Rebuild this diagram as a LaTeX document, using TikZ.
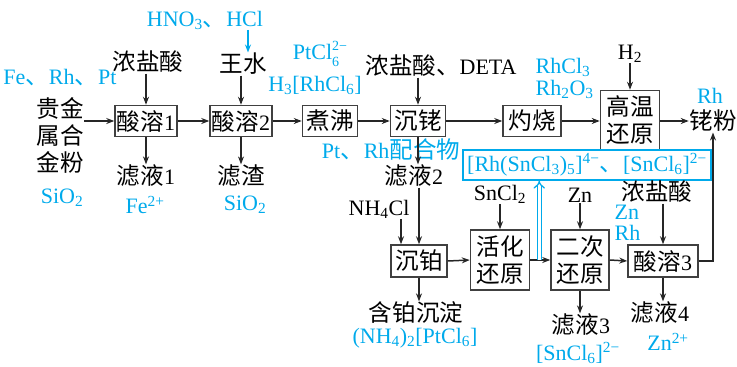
\documentclass[tikz,border=0pt]{standalone}
\usepackage{fontspec}
\setmainfont{Liberation Serif}
\newfontfamily\cjk[Scale=1.07]{Noto Sans CJK SC}
\usetikzlibrary{arrows.meta}
\definecolor{cb}{RGB}{0,170,235}
\newcommand{\tsub}[1]{\textsubscript{#1}}
\newcommand{\tsup}[1]{\textsuperscript{#1}}
\newcommand{\stk}[2]{\raisebox{-7pt}{\fontsize{14}{16}\selectfont\begin{tabular}[b]{@{}l@{}}#1\\#2\end{tabular}}}
\begin{document}
\begin{tikzpicture}[x=1pt,y=-1pt,
 every node/.style={font=\fontsize{22}{27}\selectfont, inner sep=0.5pt, align=center},
 box/.style={draw=black!75, line width=1.5pt, inner sep=1pt, minimum height=31pt},
 tbox/.style={box, minimum height=59pt},
 lbl/.style={text=cb},
 arr/.style={line width=1.5pt, black!85, -{Stealth[length=8pt,width=6pt]}},
 barr/.style={arr, cb}
]
\useasboundingbox (0,0) rectangle (737,367);
% top row
\node (fe) [lbl] at (60,78) {Fe{\cjk 、}Rh{\cjk 、}Pt};
\node (feed) [font=\fontsize{22}{27}\selectfont] at (60,135) {\cjk 贵金\\\cjk 属合\\\cjk 金粉};
\node (sio2a) [lbl] at (62,198) {SiO\tsub{2}};
\node (s1) [box, minimum width=62pt] at (146,121) {{\cjk 酸溶}1};
\node (acid1) at (148,62) {\cjk 浓盐酸};
\node (filt1) at (146,176) {{\cjk 滤液}1};
\node (fe2) [lbl] at (145,205) {Fe\tsup{2+}};
\node (s2) [box, minimum width=62pt] at (241,121) {{\cjk 酸溶}2};
\node (wang) at (243,64) {\cjk 王水};
\node (hno3) [lbl] at (205,20) {HNO\tsub{3}{\cjk 、}HCl};
\node (slag) at (241,176) {\cjk 滤渣};
\node (sio2b) [lbl] at (245,205) {SiO\tsub{2}};
\node (ptcl) [lbl] at (320,55) {PtCl\stk{2−}{6}};
\node (h3) [lbl] at (315,85) {H\tsub{3}[RhCl\tsub{6}]};
\node (boil) [box, minimum width=55pt] at (330,121) {\cjk 煮沸};
\node (rh) [box, minimum width=55pt] at (418,121) {\cjk 沉铑};
\node (hcl2) at (441,66) {{\cjk 浓盐酸、}DETA};
\node (ptrh) [lbl] at (391,150) {Pt{\cjk 、}Rh{\cjk 配合物}};
\node (filt2) at (414,176) {{\cjk 滤液}2};
\node (burn) [box, minimum width=58pt] at (532,121) {\cjk 灼烧};
\node (rhcl3) [lbl, align=left, anchor=west, font=\fontsize{22}{22}\selectfont] at (535,78) {RhCl\tsub{3}\\Rh\tsub{2}O\tsub{3}};
\node (high) [tbox, minimum width=59pt] at (630,120) {\cjk 高温\\\cjk 还原};
\node (h2) at (630,54) {H\tsub{2}};
\node (rhpow) at (713,121) {\cjk 铑粉};
\node (rhlab) [lbl] at (710,96) {Rh};
\node (bbox) [draw=cb, line width=1.5pt, text=cb, minimum width=248pt, minimum height=30pt, inner sep=0pt] at (587,165)
 {[Rh(SnCl\tsub{3})\tsub{5}]\tsup{4−}{\cjk 、}[SnCl\tsub{6}]\tsup{2−}};
% bottom row
\node (ch) [box, minimum width=56pt, minimum height=32pt] at (419,261) {\cjk 沉铂};
\node (nh4) at (379,209) {NH\tsub{4}Cl};
\node (ptppt) at (416,313) {\cjk 含铂沉淀};
\node (nhpt) [lbl] at (415,338) {(NH\tsub{4})\tsub{2}[PtCl\tsub{6}]};
\node (act) [tbox, minimum width=59pt, minimum height=60pt] at (500,260) {\cjk 活化\\\cjk 还原};
\node (sncl2) at (500,194) {SnCl\tsub{2}};
\node (sec) [tbox, minimum width=58pt, minimum height=60pt] at (580,260) {\cjk 二次\\\cjk 还原};
\node (zn) at (580,195) {Zn};
\node (filt3) at (581,325) {{\cjk 滤液}3};
\node (sncl6) [lbl] at (578,353) {[SnCl\tsub{6}]\tsup{2−}};
\node (s3) [box, minimum width=70pt, minimum height=32pt] at (663,261) {{\cjk 酸溶}3};
\node (hcl3) at (657,192) {\cjk 浓盐酸};
\node (znrh) [lbl, align=left, anchor=west, font=\fontsize{22}{21}\selectfont] at (614,223) {Zn\\Rh};
\node (filt4) at (660,313) {{\cjk 滤液}4};
\node (zn2) [lbl] at (668,342) {Zn\tsup{2+}};
% connectors top
\draw[arr] (feed.east |- s1) -- (s1.west);
\draw[arr] (acid1.south -| s1.north) -- (s1.north);
\draw[arr] (s1.south) -- (filt1.north);
\draw[arr] (s1.east) -- (s2.west);
\draw[arr] (wang.south -| s2.north) -- (s2.north);
\draw[barr] ([xshift=5pt]wang.north |- hno3.south) -- ([xshift=5pt]wang.north);
\draw[arr] (s2.south) -- (slag.north);
\draw[arr] (s2.east) -- (boil.west);
\draw[arr] (boil.east) -- (rh.west);
\draw[arr] (hcl2.south -| rh.north) -- (rh.north);
\draw[arr] (rh.south) -- (rh.south |- filt2.north);
\draw[arr] (rh.east) -- (burn.west);
\draw[arr] (burn.east) -- (burn.east -| high.west);
\draw[arr] (h2.south) -- (high.north);
\draw[arr] (high.east |- rhpow.west) -- (rhpow.west);
% connectors bottom
\draw[arr] (filt2.south -| ch.north) -- (ch.north);
\draw[arr] (nh4.south -| 401,0) -- (ch.north -| 401,0);
\draw[arr] (ch.south) -- (ptppt.north -| ch.south);
\draw[arr] (ch.east) -- (act.west);
\draw[arr] (sncl2.south) -- (act.north);
\draw[arr] (act.east) -- coordinate[pos=0.45] (dj) (sec.west);
\draw[arr] (zn.south) -- (sec.north);
\draw[arr] (sec.south) -- (filt3.north -| sec.south);
\draw[arr] (sec.east) -- (s3.west);
\draw[arr] (hcl3.south -| s3.north) -- (s3.north);
\draw[arr] (s3.south) -- (filt4.north -| s3.south);
\draw[arr] (s3.east) -| (rhpow.south);
\draw[cb, line width=1.3pt, double, double distance=2.5pt, -{Implies}] (dj) -- (dj |- bbox.south);
\end{tikzpicture}
\end{document}
